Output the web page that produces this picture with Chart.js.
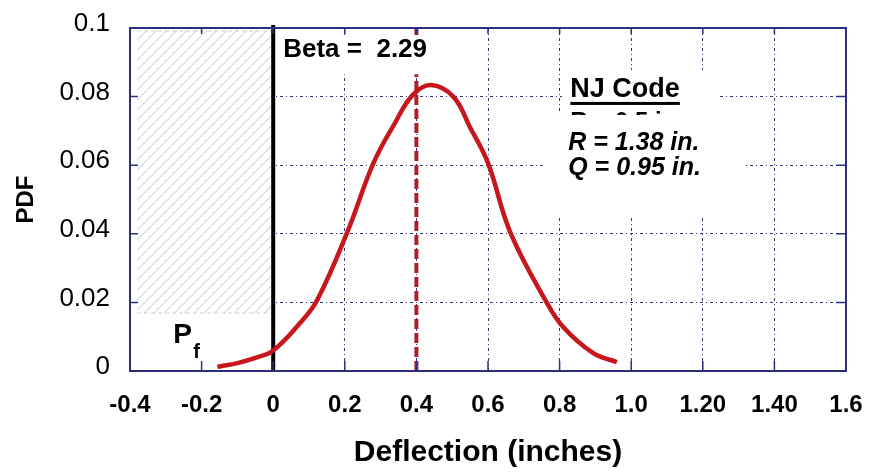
<!DOCTYPE html>
<html>
<head>
<meta charset="utf-8">
<script src="https://cdn.jsdelivr.net/npm/chart.js@4.4.1/dist/chart.umd.min.js"></script>
<style>
	html, body { margin: 0; padding: 0; background: #fff; }
	canvas { display: block; }
</style>
</head>
<body>
<canvas id="pdfChart" width="871" height="474"></canvas>
<script>
// DATA
const deflection = [-0.156, -0.10, -0.05, 0, 0.075, 0.123, 0.207, 0.28, 0.34, 0.39, 0.44, 0.503, 0.55, 0.60, 0.662, 0.76, 0.81, 0.894, 0.96];
const pdfValues = [0.0012, 0.0023, 0.0038, 0.006, 0.014, 0.0207, 0.0405, 0.0606, 0.0723, 0.0805, 0.0834, 0.080, 0.071, 0.0606, 0.0405, 0.0207, 0.0128, 0.0052, 0.0026];

const xTickValues = [-0.4, -0.2, 0, 0.2, 0.4, 0.6, 0.8, 1.0, 1.2, 1.4, 1.6];
const xTickLabels = ["-0.4", "-0.2", "0", "0.2", "0.4", "0.6", "0.8", "1.0", "1.20", "1.40", "1.6"];
const yTickValues = [0, 0.02, 0.04, 0.06, 0.08, 0.1];
const yTickLabels = ["0", "0.02", "0.04", "0.06", "0.08", "0.1"];

const limitValue = 0;    // black line
const meanValue = 0.4;   // red dashed line
const betaValue = "2.29";
const codeTitle = "NJ Code";
const codeLines = ["R = 1.38 in.", "Q = 0.95 in."];
const hiddenLine = "R = 0.5 in.";

const FONT = "'Liberation Sans', Arial, Helvetica, sans-serif";
const gridColor = "#34346e";
const frameColor = "#2e2e80";

// white boxes pasted over the plot (x0, y0, x1, y1 in data units)
const coverBoxes = [
	[-0.4, 0, 0, 0.1],
	[0.006, 0.0865, 0.444, 0.0975],
	[0.807, 0.0755, 1.24, 0.0878],
	[0.76, 0.0449, 1.318, 0.0755]
];
const hatchBox = [-0.38, 0.0169, 0, 0.0994];

function toPx(chart, x, y) {
	return [chart.scales.x.getPixelForValue(x), chart.scales.y.getPixelForValue(y)];
}

// --- boxes + hatch, drawn right after the red dashed line ---
const coverPlugin = {
	id: "cover",
	afterDatasetDraw(chart, args) {
		if (chart.data.datasets[args.index].label !== "mean") return;
		const ctx = chart.ctx;
		ctx.save();
		ctx.fillStyle = "#fff";
		coverBoxes.forEach(b => {
			const [x0, y0] = toPx(chart, b[0], b[1]);
			const [x1, y1] = toPx(chart, b[2], b[3]);
			ctx.fillRect(x0, y1, x1 - x0, y0 - y1);
		});

		const [hx0, hy0] = toPx(chart, hatchBox[0], hatchBox[1]);
		const [hx1, hy1] = toPx(chart, hatchBox[2], hatchBox[3]);
		const w = hx1 - hx0, h = hy0 - hy1;
		ctx.save();
		ctx.beginPath();
		ctx.rect(hx0, hy1, w, h);
		ctx.clip();
		ctx.strokeStyle = "#c4c4c4";
		ctx.lineWidth = 1;
		ctx.beginPath();
		for (let k = -h; k < w; k += 10) {
			ctx.moveTo(hx0 + k, hy0);
			ctx.lineTo(hx0 + k + h, hy1);
		}
		ctx.stroke();
		ctx.restore();

		ctx.strokeStyle = "#d0d0d0";
		ctx.setLineDash([4, 3]);
		ctx.beginPath();
		ctx.moveTo(hx0, hy0); ctx.lineTo(hx1, hy0);
		ctx.moveTo(hx0, hy1 + 1); ctx.lineTo(hx1, hy1 + 1);
		ctx.stroke();
		ctx.restore();
	}
};

// --- frame, inward ticks and the pasted labels ---
const framePlugin = {
	id: "frame",
	afterDatasetsDraw(chart) {
		const ctx = chart.ctx;
		const a = chart.chartArea;
		const xs = chart.scales.x, ys = chart.scales.y;
		ctx.save();
		ctx.strokeStyle = frameColor;
		ctx.lineWidth = 2;
		ctx.strokeRect(a.left, a.top, a.right - a.left, a.bottom - a.top);
		ctx.lineWidth = 1.5;
		ctx.beginPath();
		xTickValues.forEach(v => {
			const p = xs.getPixelForValue(v);
			ctx.moveTo(p, a.bottom); ctx.lineTo(p, a.bottom - 10);
			ctx.moveTo(p, a.top); ctx.lineTo(p, a.top + 6);
		});
		yTickValues.forEach(v => {
			const p = ys.getPixelForValue(v);
			ctx.moveTo(a.left, p); ctx.lineTo(a.left + 8, p);
			ctx.moveTo(a.right, p); ctx.lineTo(a.right - 10, p);
		});
		ctx.stroke();

		ctx.fillStyle = "#000";
		ctx.textAlign = "left";
		ctx.textBaseline = "alphabetic";

		let [tx, ty] = toPx(chart, 0.028, 0.0915);
		ctx.font = "bold 26px " + FONT;
		ctx.fillText("Beta =  " + betaValue, tx, ty);

		[tx, ty] = toPx(chart, -0.279, 0.0082);
		ctx.font = "bold 28px " + FONT;
		ctx.fillText("P", tx, ty);
		[tx, ty] = toPx(chart, -0.223, 0.0038);
		ctx.font = "bold 20px " + FONT;
		ctx.fillText("f", tx, ty);

		[tx, ty] = toPx(chart, 0.83, 0.0799);
		ctx.font = "bold 27px " + FONT;
		ctx.fillText(codeTitle, tx, ty);
		const tw = ctx.measureText(codeTitle).width;
		ctx.fillRect(tx, ty + 5, tw, 3);

		// line that is mostly hidden behind the box below
		const [, clipTop] = toPx(chart, 0, 0.0767);
		const [, clipBot] = toPx(chart, 0, 0.0746);
		ctx.save();
		ctx.beginPath();
		ctx.rect(tx, clipTop, 200, clipBot - clipTop);
		ctx.clip();
		[tx, ty] = toPx(chart, 0.83, 0.0706);
		ctx.font = "bold 24px " + FONT;
		ctx.fillText(hiddenLine, tx, ty);
		ctx.restore();

		ctx.font = "italic bold 25px " + FONT;
		[tx, ty] = toPx(chart, 0.824, 0.0644);
		ctx.fillText(codeLines[0], tx, ty);
		[tx, ty] = toPx(chart, 0.824, 0.0572);
		ctx.fillText(codeLines[1], tx, ty);
		ctx.restore();
	}
};

const ctx = document.getElementById("pdfChart");
new Chart(ctx, {
	type: "line",
	data: {
		datasets: [
			{
				label: "pdf",
				data: deflection.map((x, i) => ({x: x, y: pdfValues[i]})),
				borderColor: "#c8161d",
				borderWidth: 4.5,
				pointRadius: 0,
				tension: 0.4,
				order: 0
			},
			{
				label: "limit",
				data: [{x: limitValue, y: 0}, {x: limitValue, y: 0.1009}],
				borderColor: "#000",
				borderWidth: 4,
				pointRadius: 0,
				clip: false,
				order: 1
			},
			{
				label: "mean",
				data: [{x: meanValue, y: 0}, {x: meanValue, y: 0.1}],
				borderColor: "#a8222b",
				borderWidth: 4,
				borderDash: [10, 4],
				pointRadius: 0,
				order: 2
			}
		]
	},
	options: {
		responsive: false,
		animation: false,
		devicePixelRatio: 1,
		layout: {padding: {left: 0, right: 25, top: 28, bottom: 0}},
		plugins: {
			legend: {display: false},
			tooltip: {enabled: false}
		},
		scales: {
			x: {
				type: "linear",
				min: -0.4,
				max: 1.6,
				afterBuildTicks: s => { s.ticks = xTickValues.map(v => ({value: v})); },
				afterFit: s => {
					s.height = 103;
					s.paddingLeft = 0;
					s.paddingRight = 0;
				},
				ticks: {
					callback: (v, i) => xTickLabels[i],
					color: "#000",
					font: {family: FONT, size: 24, weight: "bold"},
					padding: 20,
					maxRotation: 0,
					autoSkip: false
				},
				grid: {color: gridColor, lineWidth: 1, drawTicks: false},
				border: {display: false, dash: [3, 3, 1, 3]},
				title: {
					display: true,
					text: "Deflection (inches)",
					color: "#000",
					font: {family: FONT, size: 30, weight: "bold"},
					padding: {top: 0, bottom: 3}
				}
			},
			y: {
				type: "linear",
				min: 0,
				max: 0.1,
				afterBuildTicks: s => { s.ticks = yTickValues.map(v => ({value: v})); },
				afterFit: s => {
					s.width = 130;
					s.paddingTop = 0;
					s.paddingBottom = 0;
				},
				ticks: {
					callback: (v, i) => yTickLabels[i],
					color: "#000",
					font: {family: FONT, size: 26},
					padding: 20,
					labelOffset: -4,
					autoSkip: false
				},
				grid: {color: gridColor, lineWidth: 1, drawTicks: false},
				border: {display: false, dash: [3, 3, 1, 3]},
				title: {
					display: true,
					text: "PDF",
					color: "#000",
					font: {family: FONT, size: 24, weight: "bold"},
					padding: {top: 12, bottom: 0}
				}
			}
		}
	},
	plugins: [coverPlugin, framePlugin]
});
</script>
</body>
</html>
